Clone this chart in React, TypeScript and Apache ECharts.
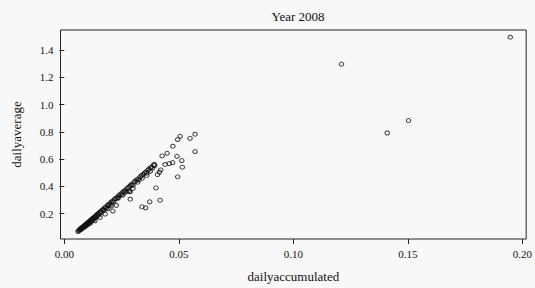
import React, { useEffect, useRef } from "react";
import * as echarts from "echarts";

const titleText = "Year 2008";
const xName = "dailyaccumulated";
const yName = "dailyaverage";
const xTicks = [0, 0.05, 0.1, 0.15, 0.2];
const yTicks = [0.2, 0.4, 0.6, 0.8, 1.0, 1.2, 1.4];

// dense band of points
const bandPoints: [number, number][] = [
  [0.0060, 0.068], [0.0063, 0.075], [0.0066, 0.079], [0.0068, 0.082], [0.0070, 0.086],
  [0.0071, 0.080], [0.0073, 0.090], [0.0075, 0.093], [0.0076, 0.087], [0.0078, 0.097],
  [0.0080, 0.100], [0.0081, 0.094], [0.0083, 0.104], [0.0085, 0.107], [0.0086, 0.100],
  [0.0088, 0.111], [0.0090, 0.114], [0.0091, 0.106], [0.0093, 0.118], [0.0095, 0.121],
  [0.0097, 0.112], [0.0098, 0.125], [0.0100, 0.128], [0.0102, 0.120], [0.0104, 0.134],
  [0.0106, 0.137], [0.0108, 0.127], [0.0110, 0.143], [0.0112, 0.146], [0.0114, 0.138],
  [0.0116, 0.151], [0.0118, 0.155], [0.0120, 0.146], [0.0122, 0.161], [0.0124, 0.163],
  [0.0126, 0.152], [0.0128, 0.168], [0.0130, 0.172], [0.0133, 0.176], [0.0135, 0.166],
  [0.0137, 0.182], [0.0140, 0.187], [0.0143, 0.178], [0.0145, 0.195], [0.0148, 0.199],
  [0.0150, 0.190], [0.0153, 0.207], [0.0156, 0.211], [0.0160, 0.216], [0.0163, 0.208],
  [0.0166, 0.226], [0.0170, 0.231], [0.0173, 0.224], [0.0177, 0.242], [0.0180, 0.247],
  [0.0184, 0.240], [0.0188, 0.258], [0.0192, 0.263], [0.0196, 0.270], [0.0200, 0.262],
  [0.0204, 0.281], [0.0208, 0.287], [0.0212, 0.293], [0.0216, 0.285], [0.0220, 0.305],
  [0.0225, 0.311], [0.0230, 0.319], [0.0234, 0.312], [0.0238, 0.331], [0.0243, 0.338],
  [0.0248, 0.346], [0.0252, 0.337], [0.0256, 0.358], [0.0261, 0.365], [0.0266, 0.372],
  [0.0270, 0.362], [0.0275, 0.386], [0.0280, 0.392], [0.0285, 0.400], [0.0290, 0.408],
  [0.0295, 0.415], [0.0300, 0.406], [0.0305, 0.430], [0.0310, 0.437], [0.0316, 0.446],
  [0.0322, 0.455], [0.0327, 0.447], [0.0332, 0.470], [0.0338, 0.479], [0.0344, 0.488],
  [0.0350, 0.496], [0.0356, 0.505], [0.0360, 0.497], [0.0365, 0.519], [0.0370, 0.526],
  [0.0376, 0.535], [0.0380, 0.541], [0.0385, 0.533], [0.0390, 0.557], [0.0393, 0.561],
  [0.0395, 0.552],
];

// points just below the band
const nearPoints: [number, number][] = [
  [0.0112, 0.127], [0.0134, 0.147], [0.0156, 0.171], [0.0178, 0.196], [0.0190, 0.235],
  [0.0205, 0.255], [0.0236, 0.318], [0.0255, 0.335], [0.0265, 0.355], [0.0279, 0.366],
  [0.0287, 0.359], [0.0300, 0.385], [0.0320, 0.430], [0.0340, 0.460], [0.0360, 0.480],
  [0.0375, 0.510],
];

// scattered points
const scatterPoints: [number, number][] = [
  [0.0571, 0.782], [0.0549, 0.752], [0.0506, 0.767], [0.0495, 0.743], [0.0474, 0.694],
  [0.0571, 0.655], [0.0449, 0.642], [0.0427, 0.623], [0.0492, 0.620], [0.0513, 0.589],
  [0.0473, 0.574], [0.0458, 0.567], [0.0440, 0.560], [0.0515, 0.540], [0.0421, 0.520],
  [0.0415, 0.503], [0.0407, 0.486], [0.0495, 0.469], [0.0400, 0.388], [0.0418, 0.298],
  [0.0373, 0.286], [0.0339, 0.249], [0.0355, 0.242], [0.0288, 0.305], [0.0285, 0.362],
  [0.0227, 0.259], [0.0212, 0.218],
  [0.1210, 1.297], [0.1410, 0.791], [0.1503, 0.882], [0.1947, 1.494],
];

const FONT = "'Liberation Serif', 'DejaVu Serif', serif";
const BG = "#f8f8f8";

export default function App() {
  const ref = useRef<HTMLDivElement>(null);
  useEffect(() => {
    if (!ref.current) return;
    const chart = echarts.init(ref.current, undefined, { renderer: "svg" });
    const allPoints = [...bandPoints, ...nearPoints, ...scatterPoints];
    chart.setOption({
      animation: false,
      backgroundColor: BG,
      title: {
        text: titleText,
        left: 293,
        top: 5,
        textAlign: "center",
        textStyle: { fontFamily: FONT, fontSize: 13, fontWeight: "normal", color: "#111" },
      },
      grid: {
        left: 60.5,
        right: 8.5,
        top: 30,
        bottom: 48,
        show: true,
        borderColor: "#222",
        borderWidth: 1,
        backgroundColor: BG,
      },
      xAxis: {
        type: "value",
        min: -0.00166,
        max: 0.20166,
        name: xName,
        nameLocation: "middle",
        nameGap: 31,
        nameTextStyle: { fontFamily: FONT, fontSize: 13, color: "#111" },
        axisLine: { show: false },
        splitLine: { show: false },
        axisTick: {
          show: true,
          inside: false,
          length: 5,
          customValues: xTicks,
          lineStyle: { color: "#222" },
        },
        axisLabel: {
          customValues: xTicks,
          margin: 9,
          fontFamily: FONT,
          fontSize: 11,
          color: "#111",
          formatter: (v: number) => v.toFixed(2),
        },
      },
      yAxis: {
        type: "value",
        min: 0.013,
        max: 1.547,
        name: yName,
        nameLocation: "middle",
        nameGap: 38,
        nameTextStyle: { fontFamily: FONT, fontSize: 13, color: "#111" },
        axisLine: { show: false },
        splitLine: { show: false },
        axisTick: {
          show: true,
          inside: false,
          length: 5,
          customValues: yTicks,
          lineStyle: { color: "#222" },
        },
        axisLabel: {
          customValues: yTicks,
          margin: 7,
          fontFamily: FONT,
          fontSize: 11,
          color: "#111",
          formatter: (v: number) => v.toFixed(1),
        },
      },
      series: [
        {
          type: "scatter",
          data: allPoints,
          symbol: "circle",
          symbolSize: [4.5, 4],
          itemStyle: { color: "rgba(0,0,0,0)", borderColor: "#111", borderWidth: 1 },
          emphasis: { disabled: true },
        },
      ],
    });
    return () => chart.dispose();
  }, []);
  return <div ref={ref} style={{ width: 535, height: 288, position: "absolute", left: 0, top: 0 }} />;
}
